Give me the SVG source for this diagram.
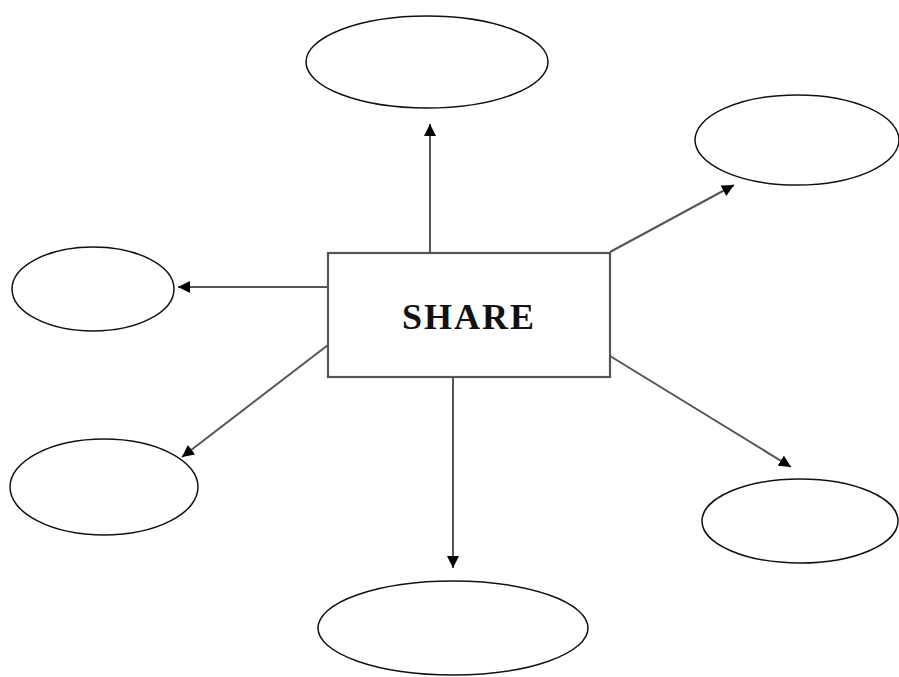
<svg xmlns="http://www.w3.org/2000/svg" width="899" height="677" viewBox="0 0 899 677">
<defs>
<style>
.node ellipse{fill:#fff;stroke:#111;stroke-width:1.5}
.box{fill:#fff;stroke:#555;stroke-width:2.2}
.conn line{stroke:#555;stroke-width:2;marker-end:url(#ah)}
.lbl{font-family:"Liberation Serif","Times New Roman",serif;font-weight:bold;font-size:36px;letter-spacing:2px;fill:#111}
</style>
<marker id="ah" viewBox="0 0 10 10" refX="10" refY="5" markerWidth="6" markerHeight="6" markerUnits="strokeWidth" orient="auto">
<path d="M0,0 L10,5 L0,10 Z" fill="#000"/>
</marker>
</defs>
<rect width="899" height="677" fill="#fff"/>
<g id="connectors" class="conn">
<line x1="430" y1="253" x2="430" y2="124"/>
<line x1="610" y1="252" x2="734" y2="185"/>
<line x1="328" y1="287" x2="178" y2="287"/>
<line x1="328" y1="345" x2="182" y2="457"/>
<line x1="610" y1="356" x2="791" y2="467"/>
<line x1="453" y1="377" x2="453" y2="568"/>
</g>
<g id="share">
<rect class="box" x="328" y="253" width="282" height="124"/>
<text class="lbl" x="469" y="329" text-anchor="middle">SHARE</text>
</g>
<g id="e-top" class="node"><ellipse cx="427" cy="62" rx="121" ry="46"/></g>
<g id="e-topright" class="node"><ellipse cx="797" cy="140" rx="102" ry="45"/></g>
<g id="e-left" class="node"><ellipse cx="93" cy="289" rx="81" ry="42"/></g>
<g id="e-bottomleft" class="node"><ellipse cx="104" cy="487" rx="94" ry="48"/></g>
<g id="e-bottomright" class="node"><ellipse cx="800" cy="521" rx="98" ry="42"/></g>
<g id="e-bottom" class="node"><ellipse cx="453" cy="628" rx="135" ry="47"/></g>
</svg>
